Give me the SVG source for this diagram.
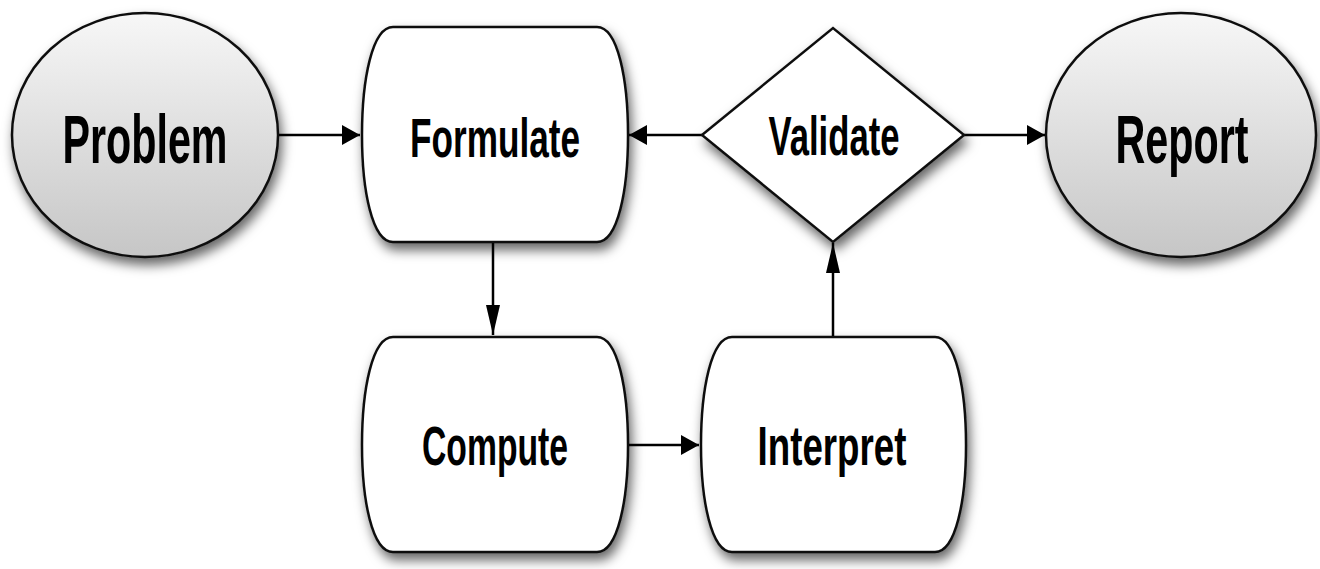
<svg xmlns="http://www.w3.org/2000/svg" width="1320" height="569" viewBox="0 0 1320 569">
<style>
.shape{stroke:#111;stroke-width:2.5;filter:url(#shadow)}
.box{fill:#fff}
.oval{fill:url(#grey)}
.lbl{font-family:"Liberation Sans",Arial,sans-serif;font-weight:bold;fill:#000;text-anchor:middle}
.big{font-size:68px}
.mid{font-size:56px}
.edge{stroke:#000;stroke-width:2.5;fill:none}
.h{marker-end:url(#ah)}
.v{marker-end:url(#av)}
</style>
<defs>
<linearGradient id="grey" x1="0" y1="0" x2="0" y2="1">
<stop offset="0" stop-color="#f7f7f7"/>
<stop offset="1" stop-color="#c6c6c6"/>
</linearGradient>
<filter id="shadow" x="-20%" y="-20%" width="140%" height="145%">
<feDropShadow dx="3" dy="7" stdDeviation="6" flood-color="#000" flood-opacity="0.6"/>
</filter>
<marker id="ah" markerUnits="userSpaceOnUse" viewBox="0 -10 18 20" refX="18" refY="0" markerWidth="18" markerHeight="20" orient="auto">
<path d="M0,-10 L18,0 L0,10 Z" fill="#000"/>
</marker>
<marker id="av" markerUnits="userSpaceOnUse" viewBox="0 -7 30 14" refX="30" refY="0" markerWidth="30" markerHeight="14" orient="auto">
<path d="M0,-7 L30,0 L0,7 Z" fill="#000"/>
</marker>
</defs>
<rect width="1320" height="569" fill="#fff"/>
<g id="connectors">
<line class="edge h" x1="278" y1="135" x2="360" y2="135"/>
<line class="edge h" x1="702" y1="135" x2="629" y2="135"/>
<line class="edge h" x1="964" y1="135" x2="1045" y2="135"/>
<line class="edge v" x1="493" y1="243" x2="493" y2="335"/>
<line class="edge h" x1="629" y1="445" x2="699" y2="445"/>
<line class="edge v" x1="833" y1="337" x2="833" y2="243"/>
</g>
<g id="node-problem">
<ellipse class="shape oval" cx="145" cy="135" rx="133" ry="122"/>
<text class="lbl big" transform="translate(145,163) scale(0.607,1)">Problem</text>
</g>
<g id="node-formulate">
<path class="shape box" d="M393,27 H597 C618,27 628,80 628,135 C628,190 618,242 597,242 H393 C372,242 362,190 362,135 C362,80 372,27 393,27 Z"/>
<text class="lbl mid" transform="translate(495,157) scale(0.628,1)">Formulate</text>
</g>
<g id="node-validate">
<polygon class="shape box" points="702,135 833,28 964,135 833,242"/>
<text class="lbl mid" transform="translate(834,155) scale(0.619,1)">Validate</text>
</g>
<g id="node-report">
<ellipse class="shape oval" cx="1181" cy="135" rx="135" ry="122"/>
<text class="lbl big" transform="translate(1182,163) scale(0.607,1)">Report</text>
</g>
<g id="node-compute">
<path class="shape box" d="M393,337 H597 C618,337 628,390 628,445 C628,500 618,552 597,552 H393 C372,552 362,500 362,445 C362,390 372,337 393,337 Z"/>
<text class="lbl mid" transform="translate(495,465) scale(0.602,1)">Compute</text>
</g>
<g id="node-interpret">
<path class="shape box" d="M732,337 H935 C956,337 966,390 966,445 C966,500 956,552 935,552 H732 C711,552 701,500 701,445 C701,390 711,337 732,337 Z"/>
<text class="lbl mid" transform="translate(832,465) scale(0.656,1)">Interpret</text>
</g>
</svg>
